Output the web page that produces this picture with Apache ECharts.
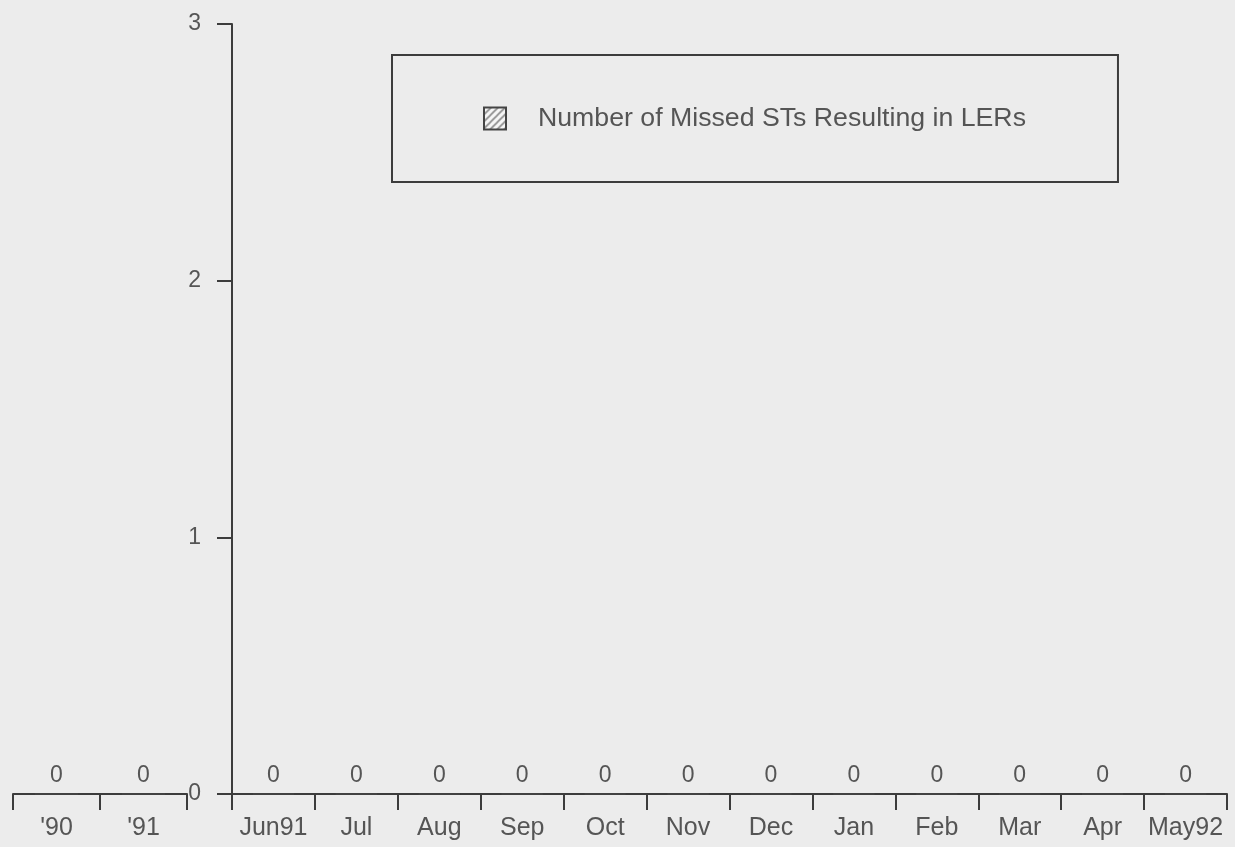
<!DOCTYPE html>
<html>
<head>
<meta charset="utf-8">
<title>Number of Missed STs Resulting in LERs</title>
<script src="https://cdn.jsdelivr.net/npm/echarts@6/dist/echarts.min.js"></script>
<style>
  html, body { margin: 0; padding: 0; background: #ececec; }
  #chart { width: 1235px; height: 847px; }
</style>
</head>
<body>
<div id="chart"></div>
<script>
// Yearly totals (left block) and monthly counts (right block)
const yearCategories = ["'90", "'91"];
const yearValues = [0, 0];
const monthCategories = ['Jun91', 'Jul', 'Aug', 'Sep', 'Oct', 'Nov', 'Dec', 'Jan', 'Feb', 'Mar', 'Apr', 'May92'];
const monthValues = [0, 0, 0, 0, 0, 0, 0, 0, 0, 0, 0, 0];
const yTicks = [0, 1, 2, 3];
const seriesName = 'Number of Missed STs Resulting in LERs';

const FONT = '"Liberation Sans", Arial, Helvetica, sans-serif';
const INK = '#3c3c3c';
const TEXT = '#555555';

// Diagonal hatch fill used by the bars and the legend swatch
function hatchPattern() {
  const c = document.createElement('canvas');
  c.width = 7; c.height = 7;
  const g = c.getContext('2d');
  g.fillStyle = '#f6f6f6';
  g.fillRect(0, 0, 7, 7);
  g.strokeStyle = '#8a8a8a';
  g.lineWidth = 1.6;
  g.beginPath();
  g.moveTo(-1, 8); g.lineTo(8, -1);
  g.moveTo(-1, 1); g.lineTo(1, -1);
  g.moveTo(6, 8); g.lineTo(8, 6);
  g.stroke();
  return { image: c, repeat: 'repeat' };
}
const hatch = hatchPattern();

const chart = echarts.init(document.getElementById('chart'), null, { renderer: 'canvas' });

const xAxisCommon = {
  type: 'category',
  boundaryGap: true,
  axisLine: { show: true, lineStyle: { color: INK, width: 2 } },
  axisTick: { show: true, inside: false, length: 16, interval: 0, lineStyle: { color: INK, width: 2 } },
  axisLabel: { color: TEXT, fontFamily: FONT, fontSize: 25, margin: 22, interval: 0 },
  splitLine: { show: false }
};

const barLabel = {
  show: true,
  position: 'top',
  distance: 6,
  color: TEXT,
  fontFamily: FONT,
  fontSize: 23,
  formatter: '{c}'
};

chart.setOption({
  backgroundColor: '#ececec',
  animation: false,
  textStyle: { fontFamily: FONT },
  grid: [
    { left: 13, width: 174, top: 24, bottom: 53 },
    { left: 232, right: 8, top: 24, bottom: 53 }
  ],
  legend: {
    left: 392,
    top: 55,
    orient: 'horizontal',
    padding: [50, 92, 50, 91],
    borderColor: INK,
    borderWidth: 2,
    itemWidth: 22,
    itemHeight: 22,
    textStyle: { color: TEXT, fontFamily: FONT, fontSize: 26.7, padding: [0, 0, 0, 27] },
    data: [{
      name: seriesName,
      icon: 'rect',
      itemStyle: { color: hatch, borderColor: '#444', borderWidth: 2 }
    }]
  },
  xAxis: [
    Object.assign({}, xAxisCommon, { gridIndex: 0, data: yearCategories }),
    Object.assign({}, xAxisCommon, { gridIndex: 1, data: monthCategories })
  ],
  yAxis: [
    {
      gridIndex: 0, type: 'value', min: yTicks[0], max: yTicks[yTicks.length - 1], interval: 1,
      show: false
    },
    {
      gridIndex: 1, type: 'value', min: yTicks[0], max: yTicks[yTicks.length - 1], interval: 1,
      axisLine: { show: true, lineStyle: { color: INK, width: 2 } },
      axisTick: { show: true, inside: false, length: 15, lineStyle: { color: INK, width: 2 } },
      axisLabel: { color: TEXT, fontFamily: FONT, fontSize: 23, margin: 31 },
      splitLine: { show: false }
    }
  ],
  series: [
    {
      name: seriesName, type: 'bar', xAxisIndex: 0, yAxisIndex: 0,
      data: yearValues, barWidth: '50%',
      itemStyle: { color: hatch, borderColor: '#444', borderWidth: 1 },
      label: barLabel
    },
    {
      name: seriesName, type: 'bar', xAxisIndex: 1, yAxisIndex: 1,
      data: monthValues, barWidth: '50%',
      itemStyle: { color: hatch, borderColor: '#444', borderWidth: 1 },
      label: barLabel
    }
  ]
});
</script>
</body>
</html>
